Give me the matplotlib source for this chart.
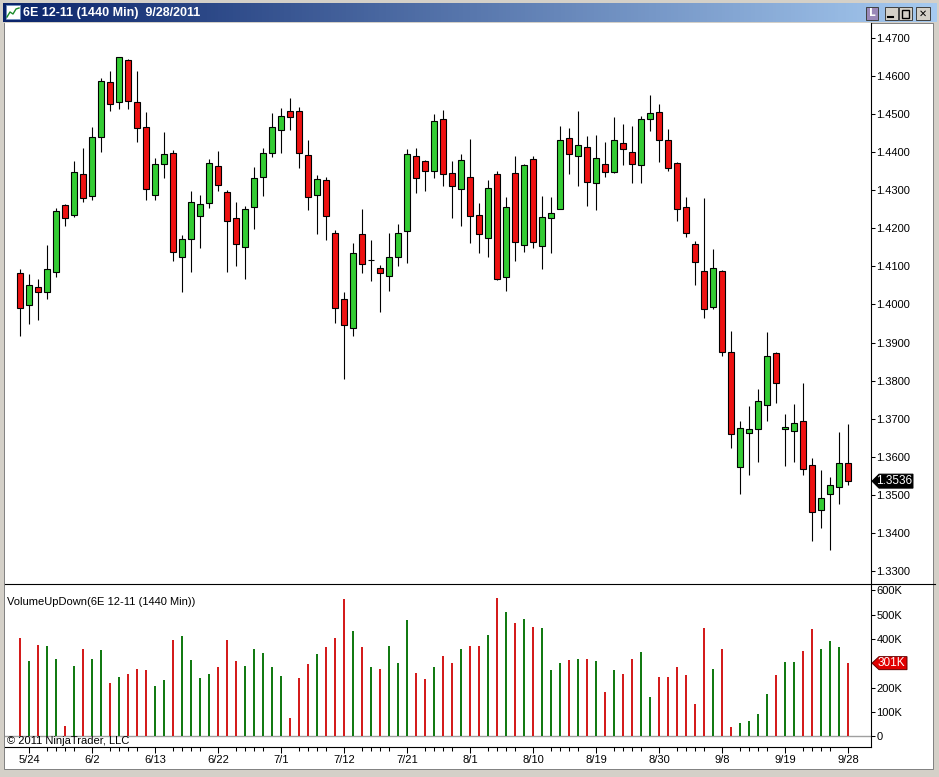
import numpy as np
import pandas as pd
import matplotlib
matplotlib.use("Agg")
import matplotlib.pyplot as plt
from matplotlib.patches import Rectangle, Polygon
from matplotlib.lines import Line2D
from matplotlib.transforms import IdentityTransform
from matplotlib.colors import LinearSegmentedColormap
from matplotlib.ticker import FixedLocator, FuncFormatter

plt.rcParams['font.family'] = ['Liberation Sans', 'DejaVu Sans']

# ---------------- data ----------------
dates = pd.bdate_range('2011-05-23', '2011-09-28')
date_labels = [f"{d.month}/{d.day}" for d in dates]

opens = [1.4082, 1.3998, 1.4045, 1.4032, 1.4085, 1.4261, 1.4234, 1.4342, 1.4284, 1.4439,
         1.4584, 1.4532, 1.4641, 1.4531, 1.4465, 1.4287, 1.4368, 1.4397, 1.4124, 1.4171,
         1.4232, 1.4266, 1.4363, 1.4296, 1.4226, 1.4150, 1.4255, 1.4334, 1.4397, 1.4458,
         1.4507, 1.4507, 1.4392, 1.4287, 1.4326, 1.4187, 1.4014, 1.3937, 1.4184, 1.4116,
         1.4095, 1.4074, 1.4124, 1.4192, 1.4389, 1.4376, 1.4350, 1.4486, 1.4345, 1.4303,
         1.4334, 1.4234, 1.4174, 1.4342, 1.4071, 1.4345, 1.4155, 1.4381, 1.4153, 1.4226,
         1.4250, 1.4437, 1.4389, 1.4413, 1.4318, 1.4368, 1.4347, 1.4423, 1.4400, 1.4366,
         1.4486, 1.4505, 1.4431, 1.4371, 1.4255, 1.4158, 1.4088, 1.3994, 1.4088, 1.3874,
         1.3572, 1.3662, 1.3672, 1.3735, 1.3872, 1.3672, 1.3669, 1.3693, 1.3578, 1.3459,
         1.3501, 1.3520, 1.3583]
highs = [1.4092, 1.4080, 1.4067, 1.4156, 1.4253, 1.4264, 1.4377, 1.4411, 1.4466, 1.4595,
         1.4613, 1.4651, 1.4645, 1.4613, 1.4506, 1.4384, 1.4453, 1.4405, 1.4183, 1.4298,
         1.4288, 1.4382, 1.4403, 1.4301, 1.4269, 1.4258, 1.4360, 1.4410, 1.4503, 1.4515,
         1.4542, 1.4518, 1.4431, 1.4339, 1.4334, 1.4195, 1.4032, 1.4161, 1.4250, 1.4169,
         1.4103, 1.4187, 1.4211, 1.4408, 1.4410, 1.4380, 1.4500, 1.4510, 1.4377, 1.4394,
         1.4434, 1.4266, 1.4327, 1.4350, 1.4282, 1.4390, 1.4369, 1.4390, 1.4284, 1.4282,
         1.4468, 1.4463, 1.4507, 1.4442, 1.4444, 1.4426, 1.4492, 1.4474, 1.4468, 1.4494,
         1.4550, 1.4527, 1.4460, 1.4373, 1.4283, 1.4167, 1.4280, 1.4146, 1.4091, 1.3930,
         1.3695, 1.3733, 1.3778, 1.3929, 1.3874, 1.3712, 1.3739, 1.3795, 1.3598, 1.3565,
         1.3548, 1.3665, 1.3686]
lows = [1.3916, 1.3948, 1.3958, 1.4015, 1.4073, 1.4207, 1.4231, 1.4270, 1.4275, 1.4401,
        1.4507, 1.4514, 1.4514, 1.4428, 1.4275, 1.4275, 1.4333, 1.4113, 1.4034, 1.4086,
        1.4149, 1.4254, 1.4298, 1.4086, 1.4102, 1.4066, 1.4199, 1.4286, 1.4388, 1.4399,
        1.4459, 1.4359, 1.4249, 1.4186, 1.4170, 1.3952, 1.3805, 1.3918, 1.4082, 1.4061,
        1.3981, 1.4036, 1.4102, 1.4108, 1.4294, 1.4297, 1.4331, 1.4312, 1.4228, 1.4207,
        1.4162, 1.4134, 1.4126, 1.4065, 1.4036, 1.4115, 1.4139, 1.4149, 1.4092, 1.4136,
        1.4250, 1.4342, 1.4312, 1.4260, 1.4247, 1.4336, 1.4345, 1.4367, 1.4318, 1.4318,
        1.4457, 1.4375, 1.4351, 1.4218, 1.4176, 1.4052, 1.3964, 1.3987, 1.3866, 1.3624,
        1.3501, 1.3553, 1.3587, 1.3695, 1.3740, 1.3577, 1.3585, 1.3553, 1.3380, 1.3414,
        1.3356, 1.3475, 1.3525]
closes = [1.3990, 1.4050, 1.4034, 1.4092, 1.4245, 1.4226, 1.4347, 1.4279, 1.4439, 1.4586,
          1.4526, 1.4649, 1.4535, 1.4463, 1.4303, 1.4368, 1.4394, 1.4137, 1.4171, 1.4268,
          1.4263, 1.4371, 1.4313, 1.4218, 1.4158, 1.4250, 1.4331, 1.4397, 1.4465, 1.4494,
          1.4492, 1.4397, 1.4282, 1.4329, 1.4232, 1.3992, 1.3945, 1.4134, 1.4106, 1.4116,
          1.4082, 1.4124, 1.4187, 1.4394, 1.4331, 1.4350, 1.4481, 1.4342, 1.4310, 1.4379,
          1.4233, 1.4186, 1.4305, 1.4068, 1.4255, 1.4165, 1.4366, 1.4165, 1.4229, 1.4240,
          1.4431, 1.4394, 1.4418, 1.4321, 1.4384, 1.4347, 1.4431, 1.4408, 1.4368, 1.4486,
          1.4502, 1.4431, 1.4358, 1.4250, 1.4187, 1.4111, 1.3987, 1.4095, 1.3876, 1.3659,
          1.3675, 1.3672, 1.3747, 1.3865, 1.3793, 1.3677, 1.3690, 1.3567, 1.3454, 1.3493,
          1.3525, 1.3583, 1.3536]
volumes_k = [404, 308, 374, 370, 320, 42, 289, 359, 320, 353,
             218, 243, 255, 275, 271, 206, 230, 398, 411, 312,
             239, 255, 285, 394, 308, 288, 361, 341, 284, 247,
             75, 239, 296, 337, 366, 406, 566, 431, 366, 284,
             275, 370, 300, 480, 259, 235, 284, 329, 300, 357,
             370, 371, 416, 567, 510, 465, 481, 449, 445, 273,
             301, 314, 318, 318, 310, 183, 273, 256, 318, 346,
             162, 244, 244, 285, 252, 134, 445, 277, 359, 40,
             56, 64, 93, 175, 252, 305, 305, 350, 441, 357,
             390, 366, 301]
price_ticks = [1.33, 1.34, 1.35, 1.36, 1.37, 1.38, 1.39, 1.40, 1.41, 1.42, 1.43, 1.44, 1.45, 1.46, 1.47]
volume_ticks = [0, 100, 200, 300, 400, 500, 600]

title_text = "6E 12-11 (1440 Min)  9/28/2011"
panel_text = "VolumeUpDown(6E 12-11 (1440 Min))"
copyright_text = "\u00a9 2011 NinjaTrader, LLC"

# ---------------- figure ----------------
W, H = 939, 777
def fx(x): return x / W
def fy(y): return 1 - y / H

o = np.array(opens); h = np.array(highs); l = np.array(lows); c = np.array(closes)
v = np.array(volumes_k)
n = len(o)
x = np.arange(n)
up = c >= o

fig = plt.figure(figsize=(W / 100, H / 100), dpi=100, facecolor='#d4d0c8')

# white client area
fig.add_artist(Rectangle((fx(4), fy(769)), (933 - 4) / W, (769 - 23) / H,
                         transform=fig.transFigure, facecolor='white',
                         edgecolor='#808080', lw=0.7, zorder=0))

# title bar
axt = fig.add_axes([fx(3), fy(22), 933 / W, 19 / H])
grad = np.linspace(0, 1, 256).reshape(1, -1)
axt.imshow(grad, aspect='auto', extent=[0, 1, 0, 1],
           cmap=LinearSegmentedColormap.from_list('tb', ['#0a246a', '#a6caf0']))
axt.set_axis_off()
fig.text(fx(23), fy(13), title_text, color='white', fontweight='bold',
         fontsize=9, va='center', ha='left')
# icon
fig.add_artist(Rectangle((fx(6), fy(19)), 14 / W, 14 / H, transform=fig.transFigure,
                         facecolor='white', edgecolor='#7090c0', lw=0.6))
fig.add_artist(Line2D([fx(7), fx(10), fx(13), fx(16), fx(19)],
                      [fy(17), fy(12), fy(14), fy(9), fy(8)], transform=fig.transFigure,
                      color='#1a8a2a', lw=1.0))
# buttons
def button(x0, x1, fc, sym, col='black', fs=8, fw='bold'):
    fig.add_artist(Rectangle((fx(x0), fy(20)), (x1 - x0) / W, 13 / H, transform=fig.transFigure,
                             facecolor=fc, edgecolor='#404040', lw=0.7))
    fig.text(fx((x0 + x1) / 2), fy(13.5), sym, color=col, fontsize=fs, fontweight=fw,
             ha='center', va='center', family=['DejaVu Sans'])
button(866, 878, '#9a88b8', 'L', col='white', fs=7.5)
button(885, 898, '#d4d0c8', '', fs=8)
fig.add_artist(Line2D([fx(888), fx(893)], [fy(17), fy(17)], transform=fig.transFigure,
                      color='black', lw=1.5))
button(899, 912, '#d4d0c8', '', fs=8)
fig.add_artist(Rectangle((fx(902), fy(18)), 7 / W, 8 / H, transform=fig.transFigure,
                         facecolor='none', edgecolor='black', lw=1.0))
button(916, 930, '#d4d0c8', '\u2715', fs=7)

# ---------------- price panel ----------------
axp = fig.add_axes([fx(5), fy(584), (871 - 5) / W, (584 - 23) / H])
axp.set_facecolor('white')
axp.vlines(x, l, h, color='black', lw=0.8, zorder=1)
body_colors = np.where(up, '#33cc33', '#ee1111')
axp.bar(x, np.abs(c - o), bottom=np.minimum(o, c), width=0.68, color=body_colors,
        edgecolor='black', linewidth=0.8, zorder=2)
axp.set_xlim(-1.667, 94.56)
axp.set_ylim(1.32658, 1.47394)
axp.yaxis.tick_right()
axp.yaxis.set_major_locator(FixedLocator(price_ticks))
axp.yaxis.set_major_formatter(FuncFormatter(lambda val, pos: f"{val:.4f}"))
axp.tick_params(axis='y', direction='out', length=3, width=0.75, pad=1, labelsize=8,
                colors='black')
axp.tick_params(axis='x', bottom=False, labelbottom=False)
for s in ['left', 'top', 'bottom']:
    axp.spines[s].set_visible(False)
axp.spines['right'].set_color('black')
axp.spines['right'].set_linewidth(0.8)

# separator
fig.add_artist(Line2D([fx(5), fx(935)], [fy(584), fy(584)], transform=fig.transFigure,
                      color='black', lw=0.8))

# ---------------- volume panel ----------------
axv = fig.add_axes([fx(5), fy(746.7), (871 - 5) / W, (746.7 - 584) / H])
axv.set_facecolor('none')
vol_colors = np.where(up, '#137a13', '#d41c1c')
axv.bar(x, v, width=0.24, color=vol_colors, zorder=2)
axv.axhline(0, color='#a0a0a0', lw=1.0, zorder=1)
axv.set_xlim(-1.667, 94.56)
axv.set_ylim(-41.9, 625.8)
axv.yaxis.tick_right()
axv.yaxis.set_major_locator(FixedLocator(volume_ticks))
last_vol = volumes_k[-1]
def vol_fmt(val, pos):
    if abs(val - last_vol) < 50:
        return ""          # hidden behind the last-value marker, as in the reference
    return "0" if val == 0 else f"{int(val)}K"
axv.yaxis.set_major_formatter(FuncFormatter(vol_fmt))
axv.tick_params(axis='y', direction='out', length=3, width=0.75, pad=1, labelsize=8,
                colors='black')
major_pos = list(range(1, n, 7))
minor_pos = [p + k for p in range(-6, n, 7) for k in (2, 3, 4, 5) if 0 <= p + k < n]
axv.xaxis.set_major_locator(FixedLocator(major_pos))
axv.xaxis.set_minor_locator(FixedLocator(minor_pos))
axv.set_xticklabels([date_labels[p] for p in major_pos])
axv.tick_params(axis='x', which='major', direction='out', length=4, width=0.75, pad=2,
                labelsize=8)
axv.tick_params(axis='x', which='minor', direction='out', length=3, width=0.75)
for s in ['left', 'top']:
    axv.spines[s].set_visible(False)
for s in ['right', 'bottom']:
    axv.spines[s].set_color('black')
    axv.spines[s].set_linewidth(0.8)

fig.text(fx(7), fy(602), panel_text, fontsize=8, ha='left', va='center', color='black')
fig.text(fx(7), fy(740.5), copyright_text, fontsize=8, ha='left', va='center', color='black')

# ---------------- last value markers ----------------
def marker(ax, val, txt, fc, ec, rect_w, hh):
    xd = ax.transAxes.transform((1, 0))[0]
    yd = ax.transData.transform((0, val))[1]
    pts = [(xd + 1, yd), (xd + 8, yd + hh), (xd + 8 + rect_w, yd + hh),
           (xd + 8 + rect_w, yd - hh), (xd + 8, yd - hh)]
    fig.add_artist(Polygon(pts, closed=True, transform=IdentityTransform(),
                           facecolor=fc, edgecolor=ec, lw=0.7, zorder=5))
    fig.text((xd + 6 + rect_w / 2) / W, yd / H, txt, color='white', fontsize=8.5,
             ha='center', va='center', zorder=6)

marker(axp, closes[-1], f"{closes[-1]:.4f}", 'black', 'black', 34, 7)
marker(axv, last_vol, f"{last_vol}K", '#e00000', '#600000', 28, 6.5)

fig.savefig('out.png', dpi=100, facecolor=fig.get_facecolor())
